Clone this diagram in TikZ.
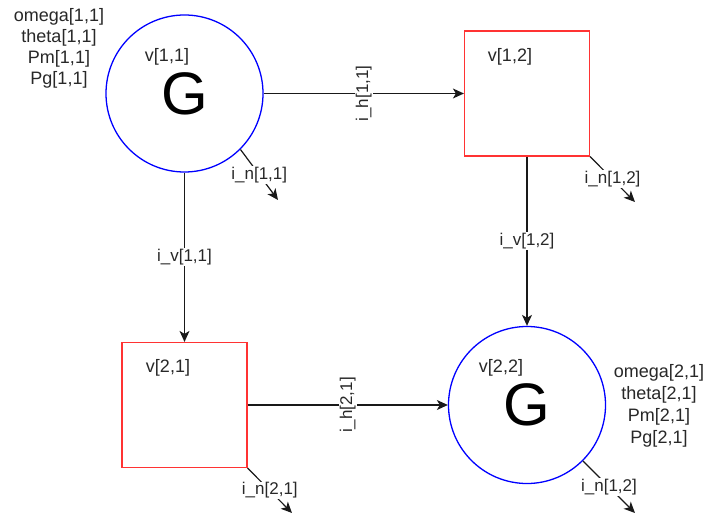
\documentclass[tikz,border=0pt]{standalone}
\usepackage{fontspec}
\setmainfont{Liberation Sans}
\usetikzlibrary{arrows.meta}
\definecolor{txt}{RGB}{40,40,40}
\definecolor{gblue}{RGB}{0,0,255}
\definecolor{bred}{RGB}{255,51,51}
\begin{document}
\begin{tikzpicture}[x=1pt,y=-1pt,
  gen/.style={circle,draw=gblue,line width=1.3pt,minimum size=157pt,inner sep=0pt,font=\fontsize{60}{60}\selectfont},
  bus/.style={rectangle,draw=bred,line width=1.2pt,minimum width=125pt,minimum height=125pt,inner sep=0pt},
  lbl/.style={font=\fontsize{18}{21}\selectfont,text=txt,inner sep=0pt},
  elbl/.style={font=\fontsize{17}{17}\selectfont,text=txt,fill=white,inner sep=1pt},
  conn/.style={line width=1.2pt,draw=black!90,-{Stealth[length=11pt,width=10pt,inset=3pt]}},
]
\useasboundingbox[fill=white] (0,0) rectangle (705,516);
% nodes
\node[gen] (g11) at (184.5,93.5) {G};
\node[bus] (b12) at (527,93.5) {};
\node[bus] (b21) at (184.5,405) {};
\node[gen] (g22) at (527,405) {G};
% inner labels
\node[lbl] (v11) at (167,57) {v[1,1]};
\node[lbl] (v12) at (510,57) {v[1,2]};
\node[lbl] (v21) at (168,368) {v[2,1]};
\node[lbl] (v22) at (501,368) {v[2,2]};
% state blocks
\node[lbl,align=center] (p11) at (59,48) {omega[1,1]\\theta[1,1]\\Pm[1,1]\\Pg[1,1]};
\node[lbl,align=center,font=\fontsize{18}{22}\selectfont] (p22) at (659,406) {omega[2,1]\\theta[2,1]\\Pm[2,1]\\Pg[2,1]};
% connectors
\draw[conn] (g11.east) -- node[elbl,rotate=90] {i\_h[1,1]} (b12.west);
\draw[conn] (g11.south) -- node[elbl] {i\_v[1,1]} (b21.north);
\draw[conn] (b12.south) -- node[elbl] {i\_v[1,2]} (g22.north);
\draw[conn] (b21.east) -- node[elbl,rotate=90] {i\_h[2,1]} (g22.west);
% injection currents
\coordinate (n11) at (278,200);
\coordinate (n12) at (635,202);
\coordinate (n21) at (292,513);
\coordinate (n22) at (635,513);
\draw[conn] (g11.-45) -- node[elbl] {i\_n[1,1]} (n11);
\draw[conn] (b12.south east) -- node[elbl] {i\_n[1,2]} (n12);
\draw[conn] (b21.south east) -- node[elbl] {i\_n[2,1]} (n21);
\draw[conn] (g22.-45) -- node[elbl] {i\_n[1,2]} (n22);
\end{tikzpicture}
\end{document}
